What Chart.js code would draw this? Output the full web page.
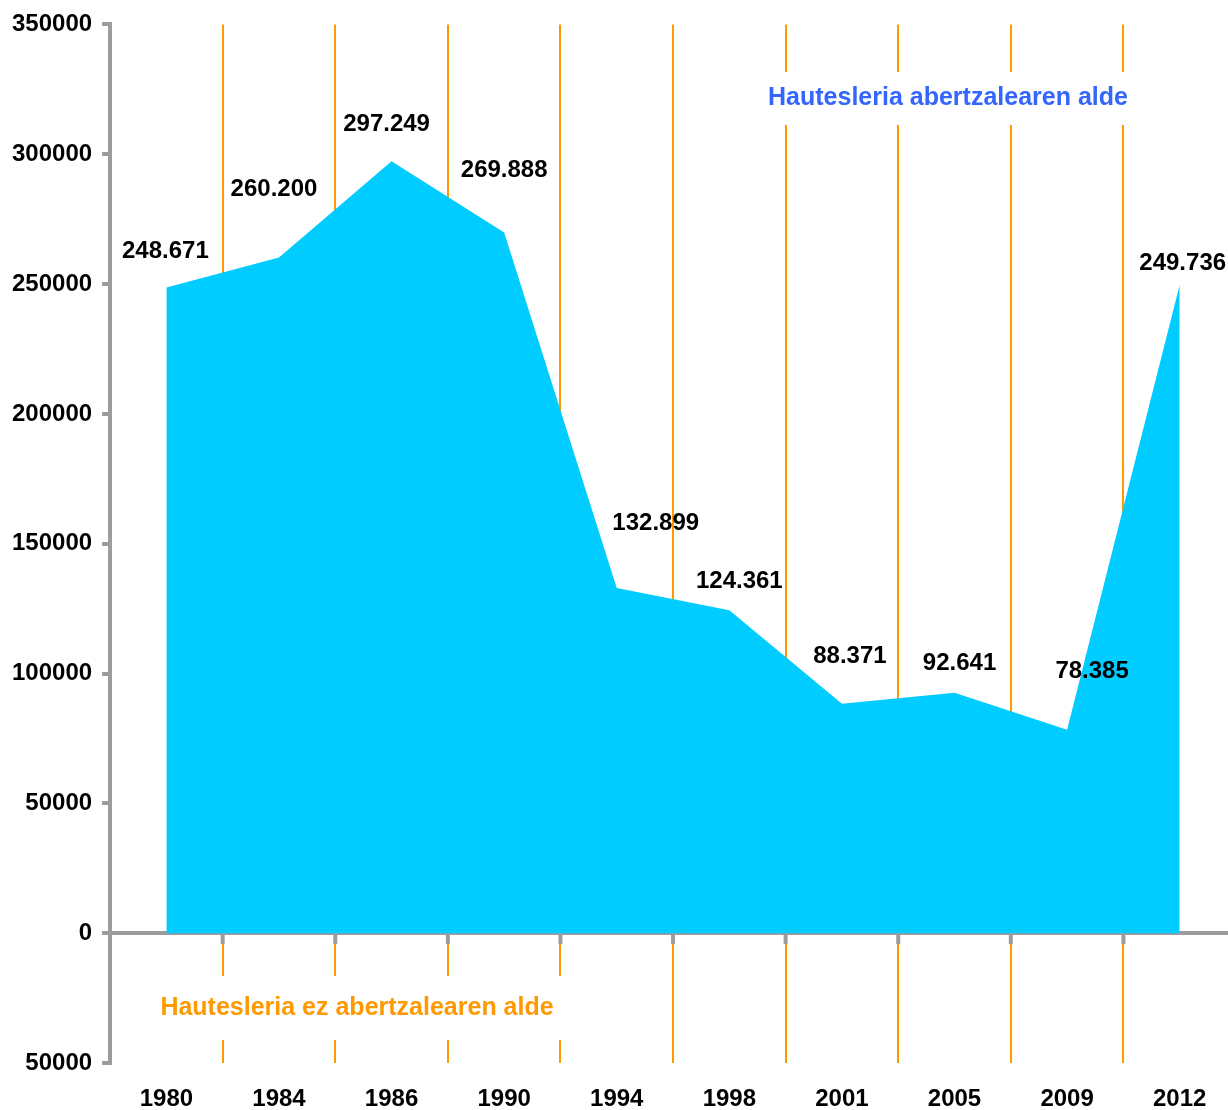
<!DOCTYPE html>
<html>
<head>
<meta charset="utf-8">
<script src="https://cdn.jsdelivr.net/npm/chart.js@4/dist/chart.umd.min.js"></script>
<style>
    html, body { margin: 0; padding: 0; background: #fff; overflow: hidden; }
    #wrap { width: 1228px; height: 1110px; overflow: hidden; }
</style>
</head>
<body>
<div id="wrap">
    <canvas id="hautesleriaChart" width="1236" height="1110"></canvas>
</div>
<script>
const urteak = ['1980', '1984', '1986', '1990', '1994', '1998', '2001', '2005', '2009', '2012'];
const botoak = [248671, 260200, 297249, 269888, 132899, 124361, 88371, 92641, 78385, 249736];
const yTickLabels = ['50000', '0', '50000', '100000', '150000', '200000', '250000', '300000', '350000'];
const goikoTestua = 'Hautesleria abertzalearen alde';
const behekoTestua = 'Hautesleria ez abertzalearen alde';

const letra = "'Liberation Sans', Arial, sans-serif";
const grisa = '#9c9c9c';
const laranja = '#ff9900';

// balioen etiketak, puntu bakoitzetik desplazatuta
const etiketaDesplazamenduak = [
    [-1, -36], [-5, -68], [-5, -37], [0, -62], [39, -65],
    [10, -29], [8, -47], [5, -29], [25, -58], [3, -21]
];

function formatua(n) {
    return n.toString().replace(/\B(?=(\d{3})+(?!\d))/g, '.');
}

const etiketakPlugin = {
    id: 'etiketak',
    afterDatasetsDraw(chart) {
        const ctx = chart.ctx;
        const x = chart.scales.x;
        const y = chart.scales.y;
        const zero = y.getPixelForValue(0);

        ctx.save();
        // marra grisak zero lerroaren azpian
        ctx.strokeStyle = grisa;
        ctx.lineWidth = 4;
        for (let i = 0; i < urteak.length - 1; i++) {
            const px = (x.getPixelForTick(i) + x.getPixelForTick(i + 1)) / 2;
            ctx.beginPath();
            ctx.moveTo(px, zero);
            ctx.lineTo(px, zero + 11);
            ctx.stroke();
        }

        // testu kutxak
        ctx.textAlign = 'center';
        ctx.textBaseline = 'middle';
        ctx.fillStyle = '#fff';
        ctx.fillRect(757, 72, 380, 53);
        ctx.fillRect(150, 976, 418, 64);
        ctx.font = 'bold 25px ' + letra;
        ctx.fillStyle = '#3366ff';
        ctx.fillText(goikoTestua, 948, 98);
        ctx.fillStyle = laranja;
        ctx.fillText(behekoTestua, 357, 1008);

        // balioak
        ctx.font = 'bold 24px ' + letra;
        const meta = chart.getDatasetMeta(0);
        ctx.fillStyle = '#000';
        meta.data.forEach((pt, i) => {
            const d = etiketaDesplazamenduak[i];
            ctx.fillText(formatua(botoak[i]), pt.x + d[0], pt.y + d[1]);
        });
        ctx.restore();
    }
};

new Chart(document.getElementById('hautesleriaChart'), {
    type: 'line',
    data: {
        labels: urteak,
        datasets: [{
            label: 'Hautesleria abertzalea',
            data: botoak,
            fill: 'origin',
            backgroundColor: '#00ccff',
            borderWidth: 0,
            pointRadius: 0,
            tension: 0
        }]
    },
    options: {
        responsive: false,
        animation: false,
        layout: { padding: { left: 2, right: 0, top: 10, bottom: 0 } },
        plugins: {
            legend: { display: false },
            tooltip: { enabled: false }
        },
        scales: {
            x: {
                offset: true,
                border: { display: false },
                afterFit: (scale) => { scale.height = 47; },
                grid: {
                    offset: true,
                    color: (c) => c.index === 0 ? 'transparent' : laranja,
                    lineWidth: 2,
                    drawTicks: false
                },
                ticks: {
                    color: '#000',
                    padding: 22,
                    maxRotation: 0,
                    font: { family: letra, size: 24, weight: 'bold' }
                }
            },
            y: {
                z: 1,
                min: -50000,
                max: 350000,
                border: { display: true, color: grisa, width: 4 },
                grid: {
                    color: (c) => c.tick && c.tick.value === 0 ? grisa : 'transparent',
                    lineWidth: 4,
                    tickColor: grisa,
                    tickLength: 8,
                    tickWidth: 4
                },
                ticks: {
                    stepSize: 50000,
                    color: '#000',
                    padding: 10,
                    font: { family: letra, size: 24, weight: 'bold' },
                    callback: (value, index) => yTickLabels[index]
                }
            }
        }
    },
    plugins: [etiketakPlugin]
});
</script>
</body>
</html>
